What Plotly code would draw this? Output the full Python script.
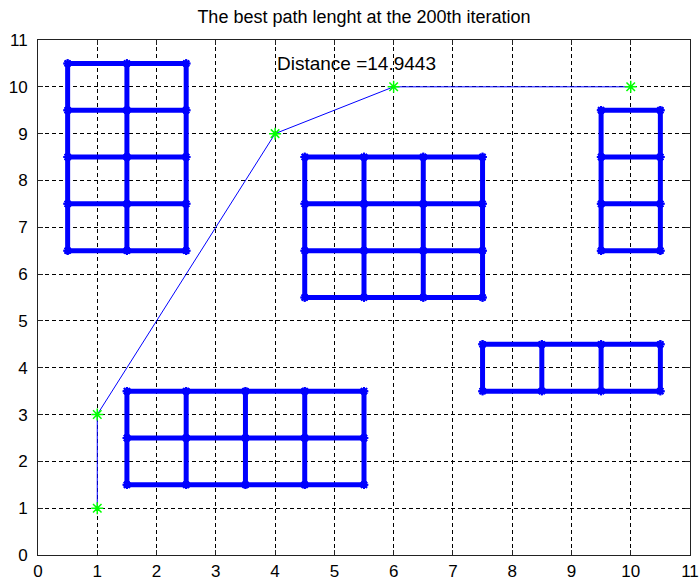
import plotly.graph_objects as go

# Obstacle blocks: grid edges in x and y
block_x_edges = [
    [0.5, 1.5, 2.5],
    [4.5, 5.5, 6.5, 7.5],
    [9.5, 10.5],
    [7.5, 8.5, 9.5, 10.5],
    [1.5, 2.5, 3.5, 4.5, 5.5],
]
block_y_edges = [
    [6.5, 7.5, 8.5, 9.5, 10.5],
    [5.5, 6.5, 7.5, 8.5],
    [6.5, 7.5, 8.5, 9.5],
    [3.5, 4.5],
    [1.5, 2.5, 3.5],
]

# Best path
path_x = [1, 1, 4, 6, 10]
path_y = [1, 3, 9, 10, 10]

title_text = "The best path lenght at the 200th iteration"
distance_text = "Distance =14.9443"
tick_vals = list(range(0, 12))

# Build obstacle line segments from the edges
ox, oy = [], []
for xs, ys in zip(block_x_edges, block_y_edges):
    for y in ys:
        ox += xs + [None]
        oy += [y] * len(xs) + [None]
    for x in xs:
        ox += [x] * len(ys) + [None]
        oy += ys + [None]

fig = go.Figure()
fig.add_trace(go.Scatter(
    x=ox, y=oy, mode="lines+markers",
    line=dict(color="#0000FF", width=5),
    marker=dict(symbol="asterisk-open", size=7, color="#0000FF",
                line=dict(color="#0000FF", width=2)),
    connectgaps=False, hoverinfo="skip", showlegend=False,
))
fig.add_trace(go.Scatter(
    x=path_x, y=path_y, mode="lines+markers",
    line=dict(color="#0000FF", width=1),
    marker=dict(symbol="asterisk-open", size=10, color="#00FF00",
                line=dict(color="#00FF00", width=1.5)),
    showlegend=False,
))

fig.add_annotation(
    x=4, y=10.5, xref="x", yref="y", text=distance_text,
    showarrow=False, xanchor="left", yanchor="middle",
    font=dict(family="Liberation Sans, Arial, sans-serif", size=19, color="black"),
)

axis_common = dict(
    range=[0, 11], tickvals=tick_vals, ticktext=[str(v) for v in tick_vals],
    showgrid=True, gridcolor="black", gridwidth=1, griddash="4px,3px",
    zeroline=False, showline=True, linecolor="#222222", linewidth=1,
    mirror="ticks", ticks="inside", ticklen=5, tickcolor="#222222",
    tickfont=dict(family="Liberation Sans, Arial, sans-serif", size=17, color="black"),
    fixedrange=True, automargin=False,
)

fig.update_layout(
    width=700, height=582,
    margin=dict(l=38, r=10, t=40, b=27, autoexpand=False),
    paper_bgcolor="white", plot_bgcolor="white",
    title=dict(text=title_text, x=0.5, xref="paper", xanchor="center",
               y=1 - 17 / 582, yref="container", yanchor="middle", automargin=False,
               font=dict(family="Liberation Sans, Arial, sans-serif", size=18, color="black")),
    xaxis=dict(**axis_common, ticklabelstandoff=1),
    yaxis=dict(**axis_common, ticklabelstandoff=6),
)

fig.write_html(
    "out.html",
    config={"displayModeBar": False},
    post_script="document.body.style.margin='0px';document.body.style.overflow='hidden';",
)
